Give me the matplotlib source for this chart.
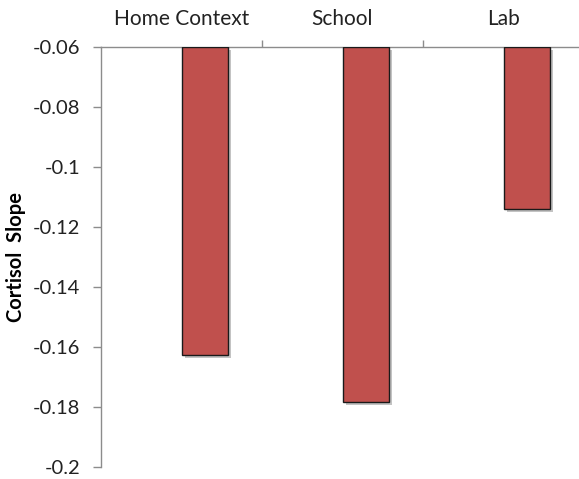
import matplotlib.pyplot as plt
import matplotlib.patheffects as pe
import numpy as np

plt.rcParams['font.family'] = ['Lato', 'DejaVu Sans']

categories = ['Home Context', 'School', 'Lab']
slopes = [-0.1627, -0.1783, -0.1140]
y_ticks = [-0.2, -0.18, -0.16, -0.14, -0.12, -0.1, -0.08, -0.06]
y_tick_labels = ['-0.2', '-0.18', '-0.16', '-0.14', '-0.12', '-0.1', '-0.08', '-0.06']
baseline = -0.06

fig = plt.figure(figsize=(5.79, 4.79), dpi=100)
ax = fig.add_axes([101 / 579, 12 / 479, 483 / 579, 420 / 479])

x = np.arange(len(categories))
heights = np.array(slopes) - baseline
bars = ax.bar(x + 0.5, heights, width=0.286, bottom=baseline, align='edge',
              color='#C0504D', edgecolor='#1a1a1a', linewidth=1.0, zorder=3)
for b in bars:
    b.set_path_effects([pe.SimplePatchShadow(offset=(2.2, -2.2), shadow_rgbFace='#555555', alpha=0.35),
                        pe.Normal()])

ax.set_xlim(0, 3)
ax.set_ylim(-0.2, -0.06)

# category axis sits on top, crossing at -0.06
ax.xaxis.tick_top()
ax.set_xticks([1, 2])
ax.set_xticklabels([])
ax.set_xticks(x + 0.5, minor=True)
ax.set_xticklabels(categories, minor=True, fontsize=15, color='#222222')
ax.tick_params(axis='x', which='major', length=5, width=1, color='#8c8c8c')
ax.tick_params(axis='x', which='minor', length=0, pad=13)

ax.set_yticks(y_ticks)
ax.set_yticklabels(y_tick_labels, fontsize=14.5, color='#222222')
ax.tick_params(axis='y', length=6, width=1, color='#8c8c8c', pad=9)

for side in ['bottom', 'right']:
    ax.spines[side].set_visible(False)
for side in ['top', 'left']:
    ax.spines[side].set_color('#8c8c8c')
    ax.spines[side].set_linewidth(1)

ax.set_ylabel('Cortisol  Slope', fontsize=14.5, fontweight='bold')
ax.yaxis.set_label_coords(-0.155, 0.5)

fig.savefig('out.png', dpi=100)
